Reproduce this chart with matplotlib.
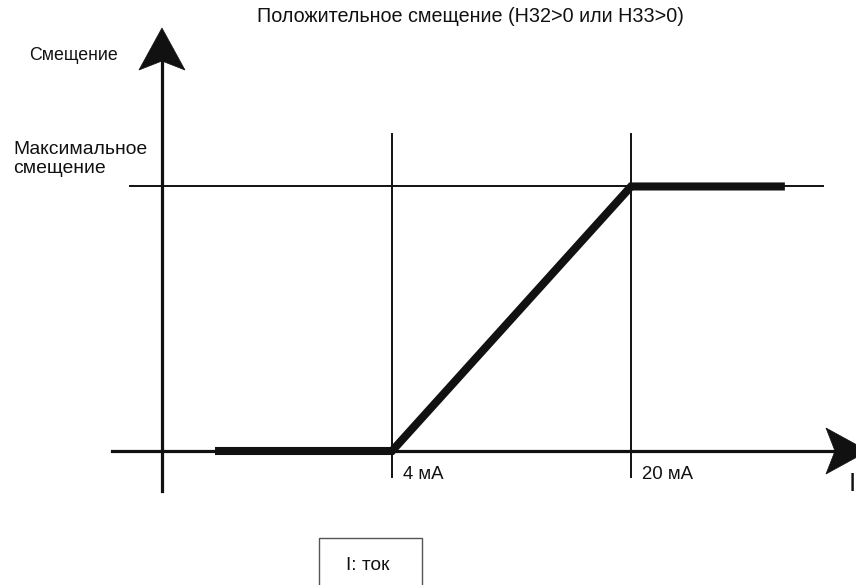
import matplotlib
matplotlib.use("Agg")
import matplotlib.pyplot as plt
from matplotlib.patches import Polygon, Rectangle

# ── data (schematic: current in mA, bias as fraction of max) ─────────
CURRENT_PTS = [-7.85, 4, 20, 30.3]      # thick characteristic line
BIAS_PTS    = [0.0, 0.0, 1.0, 1.0]
MARK_CURRENTS = [4, 20]
MARK_LABELS   = ["4 мА", "20 мА"]
MAX_BIAS = 1.0

TITLE   = "Положительное смещение (H32>0 или H33>0)"
Y_LABEL = "Смещение"
MAX_LABEL = "Максимальное\nсмещение"
X_LABEL = "I"
NOTE    = "I: ток"

# ── layout ───────────────────────────────────────────────────────────
W, H = 856, 585
XLIM = (-22.243, 35.062)        # mA across the full figure width
YLIM = (-0.5066, 1.705)         # bias across the full figure height
Y_AXIS_X = -11.4
INK = "#111111"

plt.rcParams["font.family"] = ["Liberation Sans", "DejaVu Sans"]

fig = plt.figure(figsize=(W / 100, H / 100), dpi=100)
ax = fig.add_axes([0, 0, 1, 1])
ax.set_xlim(*XLIM)
ax.set_ylim(*YLIM)
ax.axis("off")

px_x = (XLIM[1] - XLIM[0]) / W    # data units per pixel
px_y = (YLIM[1] - YLIM[0]) / H


def px(x, y):
    # pixel position (from top-left) -> data coords
    return XLIM[0] + x * px_x, YLIM[1] - y * px_y


def arrow_head(tip_x, tip_y, direction, length, width, notch):
    # length/width/notch in pixels
    if direction == "up":
        pts = [(tip_x, tip_y),
               (tip_x - width / 2 * px_x, tip_y - length * px_y),
               (tip_x, tip_y - (length - notch) * px_y),
               (tip_x + width / 2 * px_x, tip_y - length * px_y)]
    else:
        pts = [(tip_x, tip_y),
               (tip_x - length * px_x, tip_y + width / 2 * px_y),
               (tip_x - (length - notch) * px_x, tip_y),
               (tip_x - length * px_x, tip_y - width / 2 * px_y)]
    ax.add_patch(Polygon(pts, closed=True, facecolor=INK,
                         edgecolor=INK, lw=0.5, zorder=5))


# axes
y_top = YLIM[1] - 28 * px_y
x_tip = XLIM[1] + 12 * px_x
ax.plot([Y_AXIS_X, Y_AXIS_X], [-0.15, y_top - 30 * px_y], color=INK, lw=2.3)
ax.plot([XLIM[0] + 112 * px_x, x_tip - 30 * px_x], [0, 0], color=INK, lw=2.3)
arrow_head(Y_AXIS_X, y_top, "up", 42, 46, 9)
arrow_head(x_tip, 0, "right", 42, 46, 9)

# guide lines
for c in MARK_CURRENTS:
    ax.plot([c, c], [-0.098, 1.2], color=INK, lw=1.4)
ax.plot([XLIM[0] + 130 * px_x, XLIM[0] + 823 * px_x], [MAX_BIAS, MAX_BIAS],
        color=INK, lw=1.4)

# characteristic
ax.plot(CURRENT_PTS, BIAS_PTS, color=INK, lw=5.8,
        solid_capstyle="butt", solid_joinstyle="miter", zorder=4)

# texts
ax.text(*px(470, 17), TITLE, fontsize=14.2, ha="center", va="center", color=INK)
ax.text(*px(29, 55), Y_LABEL, fontsize=12.8, ha="left", va="center", color=INK)
ax.text(*px(13, 159), MAX_LABEL, fontsize=13.9, ha="left", va="center",
        color=INK, linespacing=1.2)
for c, lab in zip(MARK_CURRENTS, MARK_LABELS):
    ax.text(c + 11 * px_x, -24 * px_y, lab, fontsize=13.4,
            ha="left", va="center", color=INK)
ax.text(*px(849, 484), X_LABEL, fontsize=19, ha="left", va="center", color=INK)

# note box
bx, by = px(319, 538)
ax.add_patch(Rectangle((bx, YLIM[0] - 5 * px_y), 103 * px_x, by - YLIM[0] + 5 * px_y,
                       facecolor="white", edgecolor="#555555", lw=1.0))
ax.text(*px(368, 566), NOTE, fontsize=13.8, ha="center", va="center", color=INK)

fig.savefig("out.png", dpi=100)
